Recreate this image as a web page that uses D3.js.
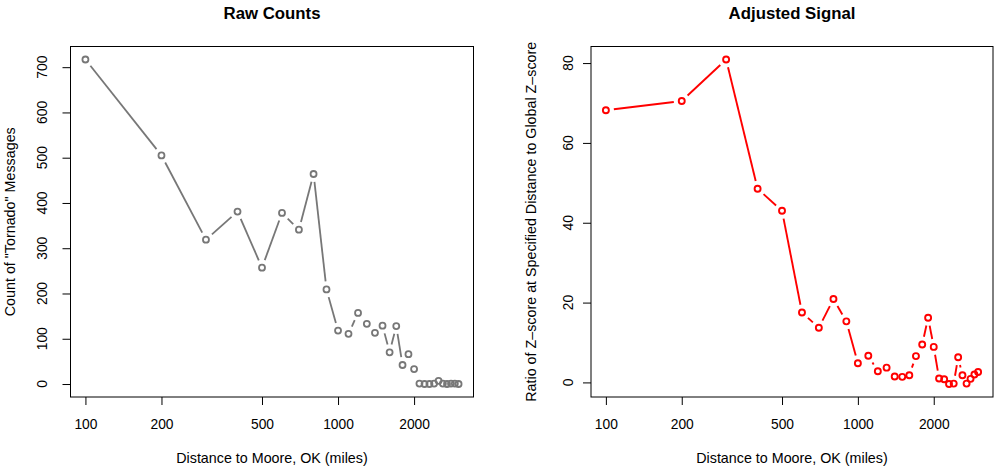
<!DOCTYPE html>
<html>
<head>
<meta charset="utf-8">
<script src="https://cdn.jsdelivr.net/npm/d3@7"></script>
<style>
  body { margin: 0; background: #fff; }
  svg { display: block; font-family: "Liberation Sans", Arial, sans-serif; }
</style>
</head>
<body>
<svg width="997" height="468"></svg>
<script>
// distances from Moore, OK (miles)
const distances = [100, 200, 300, 400, 500, 600, 700, 800, 900, 1000,
    1100, 1200, 1300, 1400, 1500, 1600, 1700, 1800, 1900, 2000,
    2100, 2200, 2300, 2400, 2500, 2600, 2700, 2800, 2900, 3000];

const rawCounts = [717, 505, 319, 381, 257, 378, 341, 464, 209, 118,
    111, 157, 133, 113, 129, 70, 128, 42, 66, 33,
    1, 0, 0, 1, 7, 1, 0, 1, 1, 0];

const adjustedSignal = [68.2, 70.5, 80.9, 48.5, 43.0, 17.5, 13.7, 20.9, 15.3, 4.8,
    6.7, 2.8, 3.7, 1.5, 1.4, 1.8, 6.6, 9.5, 16.2, 8.9,
    1.0, 0.8, -0.4, -0.3, 6.3, 1.8, -0.3, 0.9, 2.0, 2.6];

const xTicks = [100, 200, 500, 1000, 2000];
const rawTicks = [0, 100, 200, 300, 400, 500, 600, 700];
const adjTicks = [0, 20, 40, 60, 80];

const svg = d3.select("svg");

// R style: pad the data range by 4% on each side
function padded(lo, hi) {
    const p = (hi - lo) * 0.04;
    return [lo - p, hi + p];
}

function panel(opt) {
    const g = svg.append("g");
    const lx = d3.extent(distances, d => Math.log10(d));
    const px = padded(lx[0], lx[1]);
    const x = d3.scaleLog()
        .domain([Math.pow(10, px[0]), Math.pow(10, px[1])])
        .range([opt.left, opt.right]);
    const ye = d3.extent(opt.values);
    const y = d3.scaleLinear()
        .domain(padded(ye[0], ye[1]))
        .range([opt.bottom, opt.top]);

    // x axis
    g.append("g")
        .attr("transform", `translate(0,${opt.bottom})`)
        .call(d3.axisBottom(x).tickValues(xTicks).tickSize(8).tickFormat(d3.format("d")))
        .call(a => a.select(".domain").remove())
        .call(a => a.selectAll("text").attr("font-size", 13.8).attr("fill", "#000")
            .attr("font-family", null).attr("dy", null).attr("y", 32.3));

    // y axis, labels parallel to the axis
    g.append("g")
        .attr("transform", `translate(${opt.left},0)`)
        .call(d3.axisLeft(y).tickValues(opt.ticks).tickSize(8).tickFormat(d3.format("d")))
        .call(a => a.select(".domain").remove())
        .call(a => a.selectAll("text").remove());

    g.append("g").selectAll("text")
        .data(opt.ticks)
        .enter().append("text")
        .attr("transform", d => `translate(${opt.tickLabelX},${y(d)}) rotate(-90)`)
        .attr("text-anchor", "middle")
        .attr("font-size", 13.8)
        .text(d => d);

    // box
    g.append("rect")
        .attr("x", opt.left).attr("y", opt.top)
        .attr("width", opt.right - opt.left)
        .attr("height", opt.bottom - opt.top)
        .attr("fill", "none").attr("stroke", "#000").attr("stroke-width", 1);

    // type = "b": segments cut short around each point
    const pts = distances.map((d, i) => [x(d), y(opt.values[i])]);
    const gap = 8;
    const segs = [];
    for (let i = 1; i < pts.length; i++) {
        const [x0, y0] = pts[i - 1], [x1, y1] = pts[i];
        const len = Math.hypot(x1 - x0, y1 - y0);
        if (len <= 2 * gap) continue;
        const ux = (x1 - x0) / len, uy = (y1 - y0) / len;
        segs.push([x0 + ux * gap, y0 + uy * gap, x1 - ux * gap, y1 - uy * gap]);
    }
    g.append("g").selectAll("line")
        .data(segs)
        .enter().append("line")
        .attr("x1", d => d[0]).attr("y1", d => d[1])
        .attr("x2", d => d[2]).attr("y2", d => d[3])
        .attr("stroke", opt.color).attr("stroke-width", opt.lw);

    g.append("g").selectAll("circle")
        .data(pts)
        .enter().append("circle")
        .attr("cx", d => d[0]).attr("cy", d => d[1])
        .attr("r", 3)
        .attr("fill", "none").attr("stroke", opt.color).attr("stroke-width", opt.lw);

    // titles
    g.append("text")
        .attr("x", (opt.left + opt.right) / 2).attr("y", 18.5)
        .attr("text-anchor", "middle")
        .attr("font-size", 16.8).attr("font-weight", "bold")
        .text(opt.title);

    g.append("text")
        .attr("x", (opt.left + opt.right) / 2).attr("y", 463)
        .attr("text-anchor", "middle")
        .attr("font-size", 14.3)
        .text("Distance to Moore, OK (miles)");

    g.append("text")
        .attr("transform", `translate(${opt.ylabX},${(opt.top + opt.bottom) / 2}) rotate(-90)`)
        .attr("text-anchor", "middle")
        .attr("font-size", 14.3)
        .text(opt.ylab);
}

panel({
    values: rawCounts, ticks: rawTicks, color: "#777777", lw: 1.8,
    left: 70.5, right: 473.5, top: 46.5, bottom: 397,
    tickLabelX: 46.5, ylabX: 15,
    title: "Raw Counts",
    ylab: "Count of \"Tornado\" Messages"
});

panel({
    values: adjustedSignal, ticks: adjTicks, color: "#ff0000", lw: 1.9,
    left: 591, right: 993, top: 46.5, bottom: 397,
    tickLabelX: 572.5, ylabX: 535.5,
    title: "Adjusted Signal",
    ylab: "Ratio of Z\u2013score at Specified Distance to Global Z\u2013score"
});
</script>
</body>
</html>
